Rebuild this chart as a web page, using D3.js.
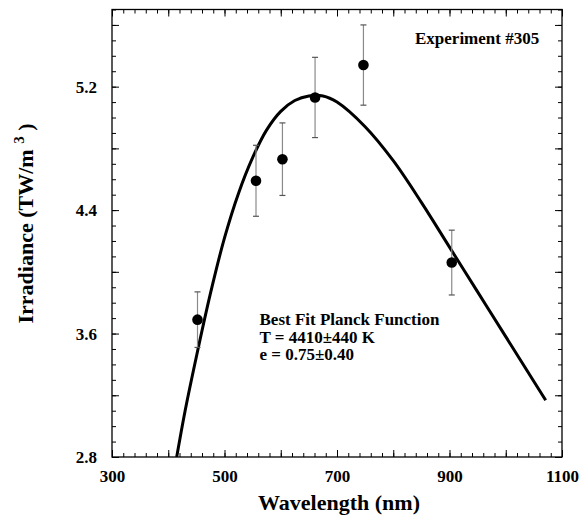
<!DOCTYPE html>
<html>
<head>
<meta charset="utf-8">
<script src="https://cdn.jsdelivr.net/npm/d3@7"></script>
<style>
  body { margin: 0; background: #fff; }
  svg text { font-family: "Liberation Serif", "Times New Roman", serif; font-weight: bold; fill: #000; }
</style>
</head>
<body>
<svg id="chart"></svg>
<script>
// measured points
const wavelengths = [452, 556, 603, 661, 747, 904];
const irradiance = [3.69, 4.59, 4.73, 5.13, 5.34, 4.06];
const errors = [0.18, 0.23, 0.235, 0.26, 0.26, 0.21];

// best fit curve
const fitWavelengths = [415, 430, 450, 475, 500, 525, 550, 575, 600, 625, 650, 675, 700, 750, 800, 850, 900, 950, 1000, 1040, 1071];
const fitIrradiance = [2.80, 3.10, 3.45, 3.86, 4.22, 4.51, 4.74, 4.92, 5.04, 5.11, 5.14, 5.14, 5.10, 4.94, 4.72, 4.45, 4.16, 3.87, 3.58, 3.348, 3.168];

const xTickLabels = [300, 500, 700, 900, 1100];
const yTickLabels = [2.8, 3.6, 4.4, 5.2];
const notes = ["Best Fit Planck Function", "T = 4410\u00b1440 K", "e = 0.75\u00b10.40"];

const width = 588;
const height = 522;
const plotLeft = 112, plotRight = 562, plotTop = 9.5, plotBottom = 457;

let svg = d3.select("#chart")
  .attr("width", width)
  .attr("height", height);

let xScale = d3.scaleLinear().domain([300, 1100]).range([plotLeft, plotRight]);
let yScale = d3.scaleLinear().domain([2.8, 5.7]).range([plotBottom, plotTop]);

// ticks pointing into the box, on all four sides
let tickAxis = (axis, values, size, tr) => {
  let g = svg.append("g")
    .attr("transform", tr)
    .call(axis.tickValues(values).tickSizeInner(-size).tickSizeOuter(0).tickFormat(""));
  g.select(".domain").remove();
  g.selectAll("line").attr("stroke", "#000").attr("stroke-width", 1);
};

let xMinor = d3.range(300, 1101, 20);
let xMajor = d3.range(300, 1101, 100);
let yMinor = d3.range(28, 58, 1).map((d) => d / 10);
let yMajor = d3.range(28, 58, 4).map((d) => d / 10);

tickAxis(d3.axisBottom(xScale), xMinor, 4, "translate(0," + plotBottom + ")");
tickAxis(d3.axisBottom(xScale), xMajor, 7, "translate(0," + plotBottom + ")");
tickAxis(d3.axisTop(xScale), xMinor, 4, "translate(0," + plotTop + ")");
tickAxis(d3.axisTop(xScale), xMajor, 7, "translate(0," + plotTop + ")");
tickAxis(d3.axisLeft(yScale), yMinor, 4, "translate(" + plotLeft + ",0)");
tickAxis(d3.axisLeft(yScale), yMajor, 7, "translate(" + plotLeft + ",0)");
tickAxis(d3.axisRight(yScale), yMinor, 4, "translate(" + plotRight + ",0)");
tickAxis(d3.axisRight(yScale), yMajor, 7, "translate(" + plotRight + ",0)");

// tick labels
let xAxis = svg.append("g")
  .attr("transform", "translate(0," + plotBottom + ")")
  .call(d3.axisBottom(xScale).tickValues(xTickLabels).tickSize(0).tickPadding(13).tickFormat(d3.format("d")));
xAxis.select(".domain").remove();
xAxis.selectAll("text").style("font-size", "17px").attr("font-family", null);

let yAxis = svg.append("g")
  .attr("transform", "translate(" + plotLeft + ",0)")
  .call(d3.axisLeft(yScale).tickValues(yTickLabels).tickSize(0).tickPadding(15).tickFormat(d3.format(".1f")));
yAxis.select(".domain").remove();
yAxis.selectAll("text").style("font-size", "17px").attr("font-family", null);

// frame
svg.append("rect")
  .attr("x", plotLeft)
  .attr("y", plotTop)
  .attr("width", plotRight - plotLeft)
  .attr("height", plotBottom - plotTop)
  .attr("fill", "none")
  .attr("stroke", "#000")
  .attr("stroke-width", 1.3);

svg.append("clipPath")
  .attr("id", "plot-clip")
  .append("rect")
  .attr("x", plotLeft)
  .attr("y", plotTop)
  .attr("width", plotRight - plotLeft)
  .attr("height", plotBottom - plotTop);

// fit curve
let fit = fitWavelengths.map((d, i) => [d, fitIrradiance[i]]);
svg.append("path")
  .datum(fit)
  .attr("clip-path", "url(#plot-clip)")
  .attr("fill", "none")
  .attr("stroke", "#000")
  .attr("stroke-width", 3)
  .attr("d", d3.line()
    .x((d) => xScale(d[0]))
    .y((d) => yScale(d[1]))
    .curve(d3.curveCatmullRom.alpha(0.5)));

// error bars
let points = wavelengths.map((d, i) => ({ nm: d, val: irradiance[i], err: errors[i] }));
let bars = svg.append("g")
  .attr("stroke", "#8a8a8a")
  .attr("stroke-width", 1.2);

bars.selectAll(".stem")
  .data(points)
  .enter()
  .append("line")
  .attr("x1", (d) => xScale(d.nm))
  .attr("x2", (d) => xScale(d.nm))
  .attr("y1", (d) => yScale(d.val - d.err))
  .attr("y2", (d) => yScale(d.val + d.err));

[-1, 1].forEach((s) => {
  bars.selectAll(".cap" + s)
    .data(points)
    .enter()
    .append("line")
    .attr("stroke", "#555")
    .attr("x1", (d) => xScale(d.nm) - 3)
    .attr("x2", (d) => xScale(d.nm) + 3)
    .attr("y1", (d) => yScale(d.val + s * d.err))
    .attr("y2", (d) => yScale(d.val + s * d.err));
});

svg.selectAll(".dot")
  .data(points)
  .enter()
  .append("circle")
  .attr("cx", (d) => xScale(d.nm))
  .attr("cy", (d) => yScale(d.val))
  .attr("r", 5.3)
  .attr("fill", "#000");

// annotations
svg.append("text")
  .text("Experiment #305")
  .attr("x", 415)
  .attr("y", 43.5)
  .style("font-size", "17px");

svg.append("g")
  .selectAll("text")
  .data(notes)
  .enter()
  .append("text")
  .text((d) => d)
  .attr("x", 259.5)
  .attr("y", (d, i) => 325 + i * 17.5)
  .style("font-size", "17px");

// axis titles
svg.append("text")
  .text("Wavelength (nm)")
  .attr("x", 339)
  .attr("y", 509.5)
  .attr("text-anchor", "middle")
  .style("font-size", "22px");

let yTitle = svg.append("text")
  .attr("transform", "translate(33,223.5) rotate(-90)")
  .attr("text-anchor", "middle")
  .style("font-size", "22px");
yTitle.append("tspan").text("Irradiance (TW/m ");
yTitle.append("tspan").text("3").attr("dy", -9).style("font-size", "15px");
yTitle.append("tspan").text(" )").attr("dy", 9);
</script>
</body>
</html>
